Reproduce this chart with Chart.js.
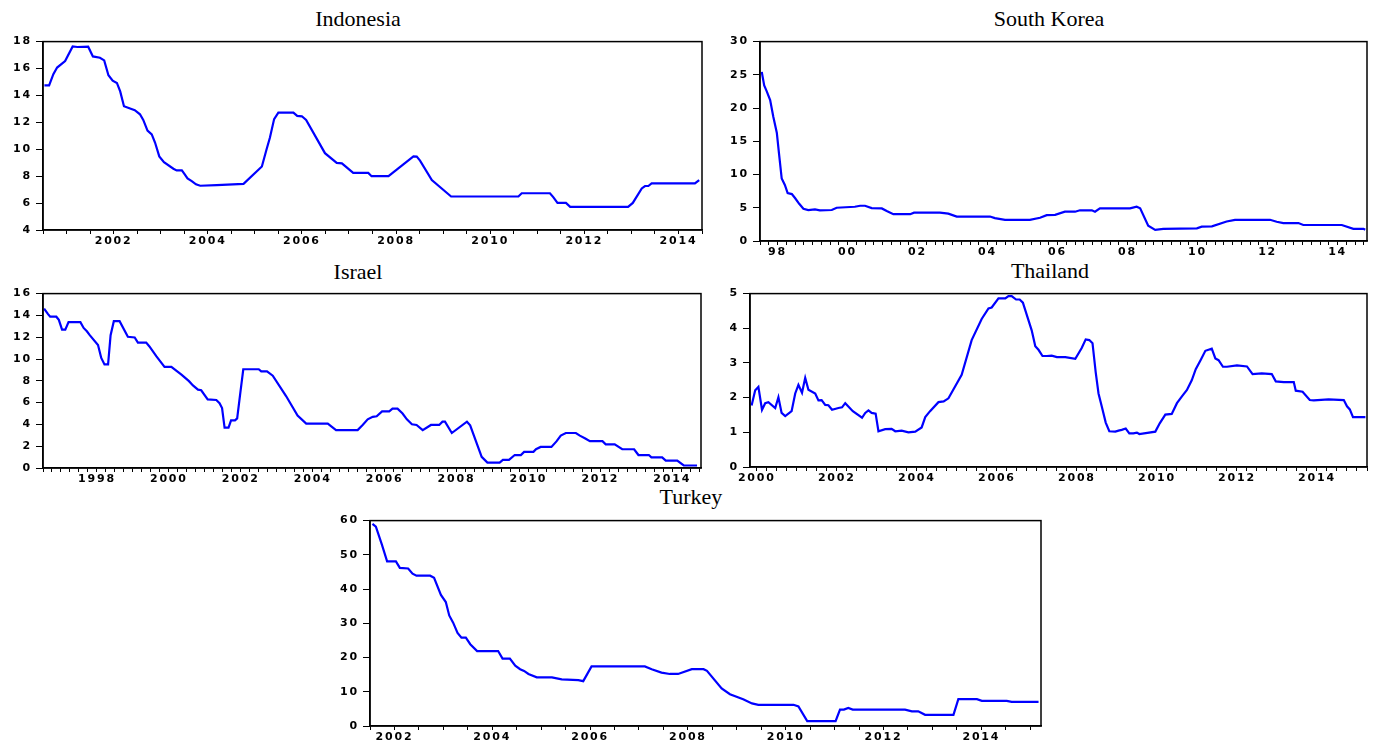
<!DOCTYPE html>
<html>
<head>
<meta charset="utf-8">
<script src="https://cdn.jsdelivr.net/npm/chart.js@4.4.0/dist/chart.umd.min.js"></script>
<style>
  body { margin: 0; background: #fff; width: 1373px; height: 748px; position: relative; overflow: hidden; }
  .box { position: absolute; }
  .ttl { position: absolute; width: 300px; text-align: center; font: 22px "Liberation Serif", serif; line-height: 22px; color: #000; }
</style>
</head>
<body>
<div class="ttl" style="left:208px;top:8px">Indonesia</div>
<div class="ttl" style="left:899px;top:8px">South Korea</div>
<div class="ttl" style="left:208px;top:261px">Israel</div>
<div class="ttl" style="left:900px;top:260px">Thailand</div>
<div class="ttl" style="left:541px;top:486px">Turkey</div>

<canvas id="indonesia" class="box"></canvas>
<canvas id="korea" class="box"></canvas>
<canvas id="israel" class="box"></canvas>
<canvas id="thailand" class="box"></canvas>
<canvas id="turkey" class="box"></canvas>

<script>
// dados (data em ano decimal, taxa em %)
const indonesiaDates = [2001.03,2001.13,2001.22,2001.30,2001.47,2001.63,2001.73,2001.96,2002.06,2002.21,2002.30,2002.39,2002.48,2002.57,2002.64,2002.72,2002.85,2002.95,2003.06,2003.13,2003.22,2003.31,2003.38,2003.47,2003.57,2003.77,2003.84,2003.95,2004.00,2004.07,2004.16,2004.25,2004.34,2004.69,2005.26,2005.65,2005.75,2005.82,2005.91,2006.00,2006.32,2006.40,2006.50,2006.59,2006.99,2007.24,2007.35,2007.59,2007.91,2007.98,2008.34,2008.87,2008.94,2009.01,2009.26,2009.67,2011.10,2011.17,2011.77,2011.84,2011.93,2012.11,2012.20,2013.43,2013.53,2013.72,2013.79,2013.86,2013.93,2014.85,2014.94];
const indonesiaRates = [14.75,14.75,15.58,16.07,16.55,17.64,17.6,17.62,16.9,16.8,16.6,15.5,15.1,14.93,14.3,13.2,13.03,12.9,12.6,12.18,11.39,11.1,10.5,9.47,9.04,8.55,8.43,8.43,8.19,7.83,7.63,7.39,7.29,7.33,7.43,8.72,10.0,10.85,12.24,12.72,12.72,12.48,12.45,12.18,9.71,8.99,8.95,8.24,8.24,8.0,8.0,9.47,9.45,9.16,7.71,6.49,6.49,6.73,6.73,6.44,6.01,6.01,5.72,5.72,6.01,7.09,7.27,7.27,7.46,7.46,7.71];

const koreaDates = [1998.05,1998.12,1998.19,1998.29,1998.38,1998.48,1998.54,1998.62,1998.71,1998.79,1998.91,1999.0,1999.12,1999.24,1999.38,1999.57,1999.71,2000.05,2000.19,2000.71,2000.86,2001.0,2001.19,2001.48,2001.62,2001.81,2002.29,2002.4,2003.14,2003.38,2003.62,2004.57,2004.71,2005.0,2005.71,2006.0,2006.19,2006.43,2006.71,2007.0,2007.14,2007.48,2007.57,2007.71,2008.57,2008.76,2008.86,2009.09,2009.29,2009.52,2010.48,2010.62,2010.91,2011.33,2011.57,2012.57,2012.76,2012.95,2013.38,2013.52,2014.62,2014.95,2015.24,2015.29];
const koreaRates = [25.44,23.4,22.55,21.2,18.7,16.3,13.3,9.4,8.44,7.2,7.06,6.47,5.6,4.85,4.66,4.76,4.62,4.66,5.0,5.15,5.3,5.3,4.96,4.9,4.5,4.03,4.03,4.26,4.26,4.12,3.68,3.68,3.44,3.19,3.19,3.5,3.88,3.93,4.41,4.41,4.62,4.62,4.41,4.91,4.91,5.15,4.91,2.31,1.68,1.82,1.91,2.16,2.21,2.94,3.19,3.19,2.9,2.7,2.7,2.41,2.41,1.82,1.82,1.68];

const israelDates = [1997.03,1997.14,1997.2,1997.37,1997.44,1997.53,1997.62,1997.71,1998.04,1998.13,1998.22,1998.3,1998.53,1998.62,1998.71,1998.81,1998.88,1998.97,1999.13,1999.36,1999.55,1999.64,1999.87,1999.96,2000.15,2000.38,2000.57,2000.85,2001.06,2001.17,2001.31,2001.4,2001.58,2001.82,2001.91,2001.98,2002.05,2002.16,2002.23,2002.34,2002.4,2002.48,2002.57,2003.0,2003.07,2003.23,2003.39,2003.76,2004.08,2004.32,2004.92,2005.15,2005.75,2005.89,2006.03,2006.17,2006.28,2006.43,2006.63,2006.72,2006.86,2007.0,2007.12,2007.26,2007.39,2007.56,2007.79,2008.02,2008.11,2008.18,2008.37,2008.79,2008.88,2009.2,2009.36,2009.7,2009.79,2009.96,2010.12,2010.29,2010.38,2010.64,2010.71,2010.84,2011.14,2011.28,2011.4,2011.54,2011.82,2011.93,2012.07,2012.21,2012.56,2012.65,2012.9,2013.11,2013.44,2013.56,2013.85,2013.92,2014.22,2014.32,2014.64,2014.82,2015.19];
const israelRates = [14.63,14.12,13.88,13.88,13.59,12.69,12.69,13.38,13.38,12.85,12.54,12.19,11.29,10.1,9.5,9.5,12.19,13.47,13.47,12.04,11.98,11.5,11.5,11.15,10.26,9.28,9.28,8.56,7.97,7.58,7.19,7.13,6.3,6.24,5.94,5.5,3.71,3.71,4.37,4.37,4.55,6.69,9.06,9.06,8.86,8.86,8.47,6.6,4.82,4.07,4.07,3.48,3.48,3.95,4.46,4.69,4.75,5.2,5.2,5.44,5.44,5.0,4.46,4.01,3.95,3.48,3.95,3.95,4.25,4.25,3.21,4.25,3.92,1.03,0.5,0.5,0.74,0.74,1.19,1.19,1.48,1.48,1.72,1.93,1.93,2.44,2.97,3.21,3.21,2.97,2.73,2.46,2.46,2.17,2.17,1.72,1.72,1.19,1.19,0.98,0.98,0.68,0.68,0.23,0.23];

const thailandDates = [2000.37,2000.46,2000.54,2000.63,2000.71,2000.79,2000.96,2001.04,2001.12,2001.21,2001.37,2001.46,2001.54,2001.63,2001.71,2001.79,2001.96,2002.04,2002.12,2002.21,2002.29,2002.38,2002.54,2002.63,2002.71,2002.9,2003.13,2003.21,2003.29,2003.37,2003.47,2003.54,2003.71,2003.87,2003.96,2004.12,2004.29,2004.46,2004.62,2004.71,2004.83,2005.04,2005.17,2005.29,2005.62,2005.87,2006.12,2006.29,2006.37,2006.54,2006.71,2006.79,2006.87,2006.98,2007.07,2007.15,2007.37,2007.46,2007.54,2007.64,2007.75,2007.87,2008.0,2008.21,2008.46,2008.62,2008.72,2008.81,2008.89,2008.97,2009.04,2009.12,2009.22,2009.31,2009.46,2009.54,2009.62,2009.72,2009.81,2009.91,2010.0,2010.06,2010.46,2010.57,2010.71,2010.87,2011.0,2011.12,2011.25,2011.37,2011.47,2011.6,2011.71,2011.87,2011.96,2012.04,2012.15,2012.25,2012.5,2012.75,2012.89,2013.12,2013.37,2013.47,2013.67,2013.92,2013.97,2014.14,2014.32,2014.42,2014.79,2015.17,2015.25,2015.32,2015.4,2015.71];
const thailandRates = [1.77,2.21,2.31,1.65,1.84,1.87,1.7,2.01,1.56,1.47,1.61,2.12,2.37,2.14,2.57,2.23,2.12,1.92,1.93,1.79,1.78,1.65,1.7,1.72,1.84,1.61,1.42,1.56,1.63,1.56,1.54,1.03,1.09,1.1,1.03,1.05,1.0,1.02,1.14,1.44,1.61,1.87,1.89,1.98,2.66,3.66,4.27,4.57,4.6,4.86,4.86,4.93,4.93,4.83,4.83,4.74,3.94,3.48,3.38,3.2,3.2,3.21,3.17,3.17,3.12,3.43,3.68,3.66,3.57,2.73,2.12,1.75,1.28,1.03,1.02,1.05,1.07,1.11,0.97,0.97,0.99,0.95,1.02,1.26,1.51,1.53,1.84,2.03,2.22,2.5,2.82,3.1,3.35,3.41,3.13,3.08,2.89,2.89,2.93,2.9,2.68,2.7,2.68,2.47,2.45,2.45,2.2,2.17,1.93,1.92,1.95,1.93,1.75,1.66,1.44,1.44];

const turkeyDates = [2002.05,2002.12,2002.24,2002.35,2002.53,2002.61,2002.78,2002.87,2002.95,2003.23,2003.31,2003.45,2003.55,2003.62,2003.7,2003.79,2003.87,2003.96,2004.05,2004.19,2004.62,2004.71,2004.86,2004.97,2005.07,2005.15,2005.24,2005.41,2005.72,2005.92,2006.26,2006.36,2006.53,2006.64,2007.62,2007.76,2007.96,2008.13,2008.3,2008.58,2008.82,2008.89,2009.19,2009.36,2009.63,2009.81,2009.94,2010.66,2010.76,2010.94,2011.52,2011.61,2011.69,2011.78,2011.87,2012.94,2013.08,2013.21,2013.35,2013.93,2014.03,2014.41,2014.51,2015.02,2015.12,2015.67];
const turkeyRates = [59.05,58.2,53.1,48.1,48.1,46.2,46.0,44.5,43.9,43.9,43.3,38.3,36.2,32.3,30.2,27.2,25.8,25.8,23.9,21.9,21.9,19.7,19.7,17.6,16.6,16.1,15.2,14.2,14.2,13.6,13.4,13.1,17.4,17.4,17.4,16.6,15.6,15.2,15.2,16.6,16.6,16.1,11.0,9.3,7.8,6.6,6.2,6.2,5.7,1.43,1.43,4.78,4.78,5.26,4.78,4.78,4.3,4.3,3.26,3.26,7.84,7.84,7.35,7.35,7.07,7.07];

// eixos: período mostrado, anos com rótulo e escala vertical
const indonesiaSpan = [2001, 2015];
const koreaSpan = [1998, 2015.34];
const israelSpan = [1997, 2015.3];
const thailandSpan = [2000.33, 2015.75];
const turkeySpan = [2002, 2015.72];
const indonesiaYears = [2002, 2004, 2006, 2008, 2010, 2012, 2014];
const koreaYears = [1998, 2000, 2002, 2004, 2006, 2008, 2010, 2012, 2014];
const israelYears = [1998, 2000, 2002, 2004, 2006, 2008, 2010, 2012, 2014];
const thailandYears = [2000, 2002, 2004, 2006, 2008, 2010, 2012, 2014];
const turkeyYears = [2002, 2004, 2006, 2008, 2010, 2012, 2014];
const indonesiaYAxis = [4, 18, 2];
const koreaYAxis = [0, 30, 5];
const israelYAxis = [0, 16, 2];
const thailandYAxis = [0, 5, 1];
const turkeyYAxis = [0, 60, 10];

Chart.defaults.font.family = 'DejaVu Sans';
const tickFont = { size: 11, weight: 'bold', family: 'DejaVu Sans' };

// moldura completa em volta da área do gráfico + espaçamento das letras
const framePlugin = {
  id: 'frame',
  beforeDraw(chart) { chart.ctx.letterSpacing = '1.8px'; },
  afterDraw(chart) {
    const a = chart.chartArea, ctx = chart.ctx;
    ctx.save();
    ctx.letterSpacing = '0px';
    ctx.strokeStyle = '#000';
    ctx.lineWidth = 1.5;
    ctx.strokeRect(a.left, a.top, a.right - a.left, a.bottom - a.top);
    ctx.restore();
  }
};

function makeChart(id, dates, rates, span, years, yAxis, perYear, twoDigit, box) {
  const yw = 45, top = 6, right = 8, xh = 24;
  const canvas = document.getElementById(id);
  const w = Math.round(box.r - box.l + yw + right);
  const h = Math.round(box.b - box.t + top + xh);
  canvas.width = w; canvas.height = h;
  canvas.style.left = Math.round(box.l - yw) + 'px';
  canvas.style.top = Math.round(box.t - top) + 'px';
  canvas.style.width = w + 'px'; canvas.style.height = h + 'px';

  return new Chart(canvas.getContext('2d'), {
    type: 'line',
    data: {
      datasets: [{
        data: dates.map((d, i) => ({ x: d, y: rates[i] })),
        borderColor: '#0000ff',
        borderWidth: 2.2,
        pointRadius: 0,
        tension: 0,
        fill: false
      }]
    },
    options: {
      responsive: false,
      animation: false,
      devicePixelRatio: 1,
      layout: { padding: { top: top, right: right, left: 0, bottom: 0 } },
      plugins: { legend: { display: false }, tooltip: { enabled: false } },
      scales: {
        x: {
          type: 'linear',
          min: span[0],
          max: span[1],
          afterBuildTicks(scale) {
            const t = [];
            for (let q = Math.ceil(span[0] * perYear - 1e-6); q <= span[1] * perYear + 1e-6; q++) {
              t.push({ value: q / perYear });
            }
            scale.ticks = t;
          },
          afterFit(scale) { scale.height = xh; },
          ticks: {
            autoSkip: false,
            maxRotation: 0,
            minRotation: 0,
            padding: 1,
            color: '#000',
            font: tickFont,
            callback(value) {
              const yr = Math.floor(value + 1e-6);
              if (Math.abs(value - yr - 0.5) < 1e-3 && years.includes(yr)) {
                return twoDigit ? String(yr).slice(2) : String(yr);
              }
              return '';
            }
          },
          grid: { drawOnChartArea: false, drawTicks: true, tickLength: 4, color: '#000', lineWidth: 1 },
          border: { color: '#000', width: 1.5 }
        },
        y: {
          min: yAxis[0],
          max: yAxis[1],
          afterFit(scale) { scale.width = yw; },
          ticks: { stepSize: yAxis[2], padding: 4, color: '#000', font: tickFont },
          grid: { drawOnChartArea: false, drawTicks: true, tickLength: 7, color: '#000', lineWidth: 1 },
          border: { color: '#000', width: 1.5 }
        }
      }
    },
    plugins: [framePlugin]
  });
}

makeChart('indonesia', indonesiaDates, indonesiaRates, indonesiaSpan, indonesiaYears, indonesiaYAxis, 2, false,
  { l: 43, t: 36.7, r: 702, b: 229.3 });
makeChart('korea', koreaDates, koreaRates, koreaSpan, koreaYears, koreaYAxis, 4, true,
  { l: 760, t: 36.7, r: 1367, b: 240.7 });
makeChart('israel', israelDates, israelRates, israelSpan, israelYears, israelYAxis, 4, false,
  { l: 43.3, t: 289, r: 701.7, b: 468.3 });
makeChart('thailand', thailandDates, thailandRates, thailandSpan, thailandYears, thailandYAxis, 4, false,
  { l: 750, t: 289, r: 1366.7, b: 467.3 });
makeChart('turkey', turkeyDates, turkeyRates, turkeySpan, turkeyYears, turkeyYAxis, 2, false,
  { l: 370, t: 516, r: 1041, b: 725.7 });
</script>
</body>
</html>
